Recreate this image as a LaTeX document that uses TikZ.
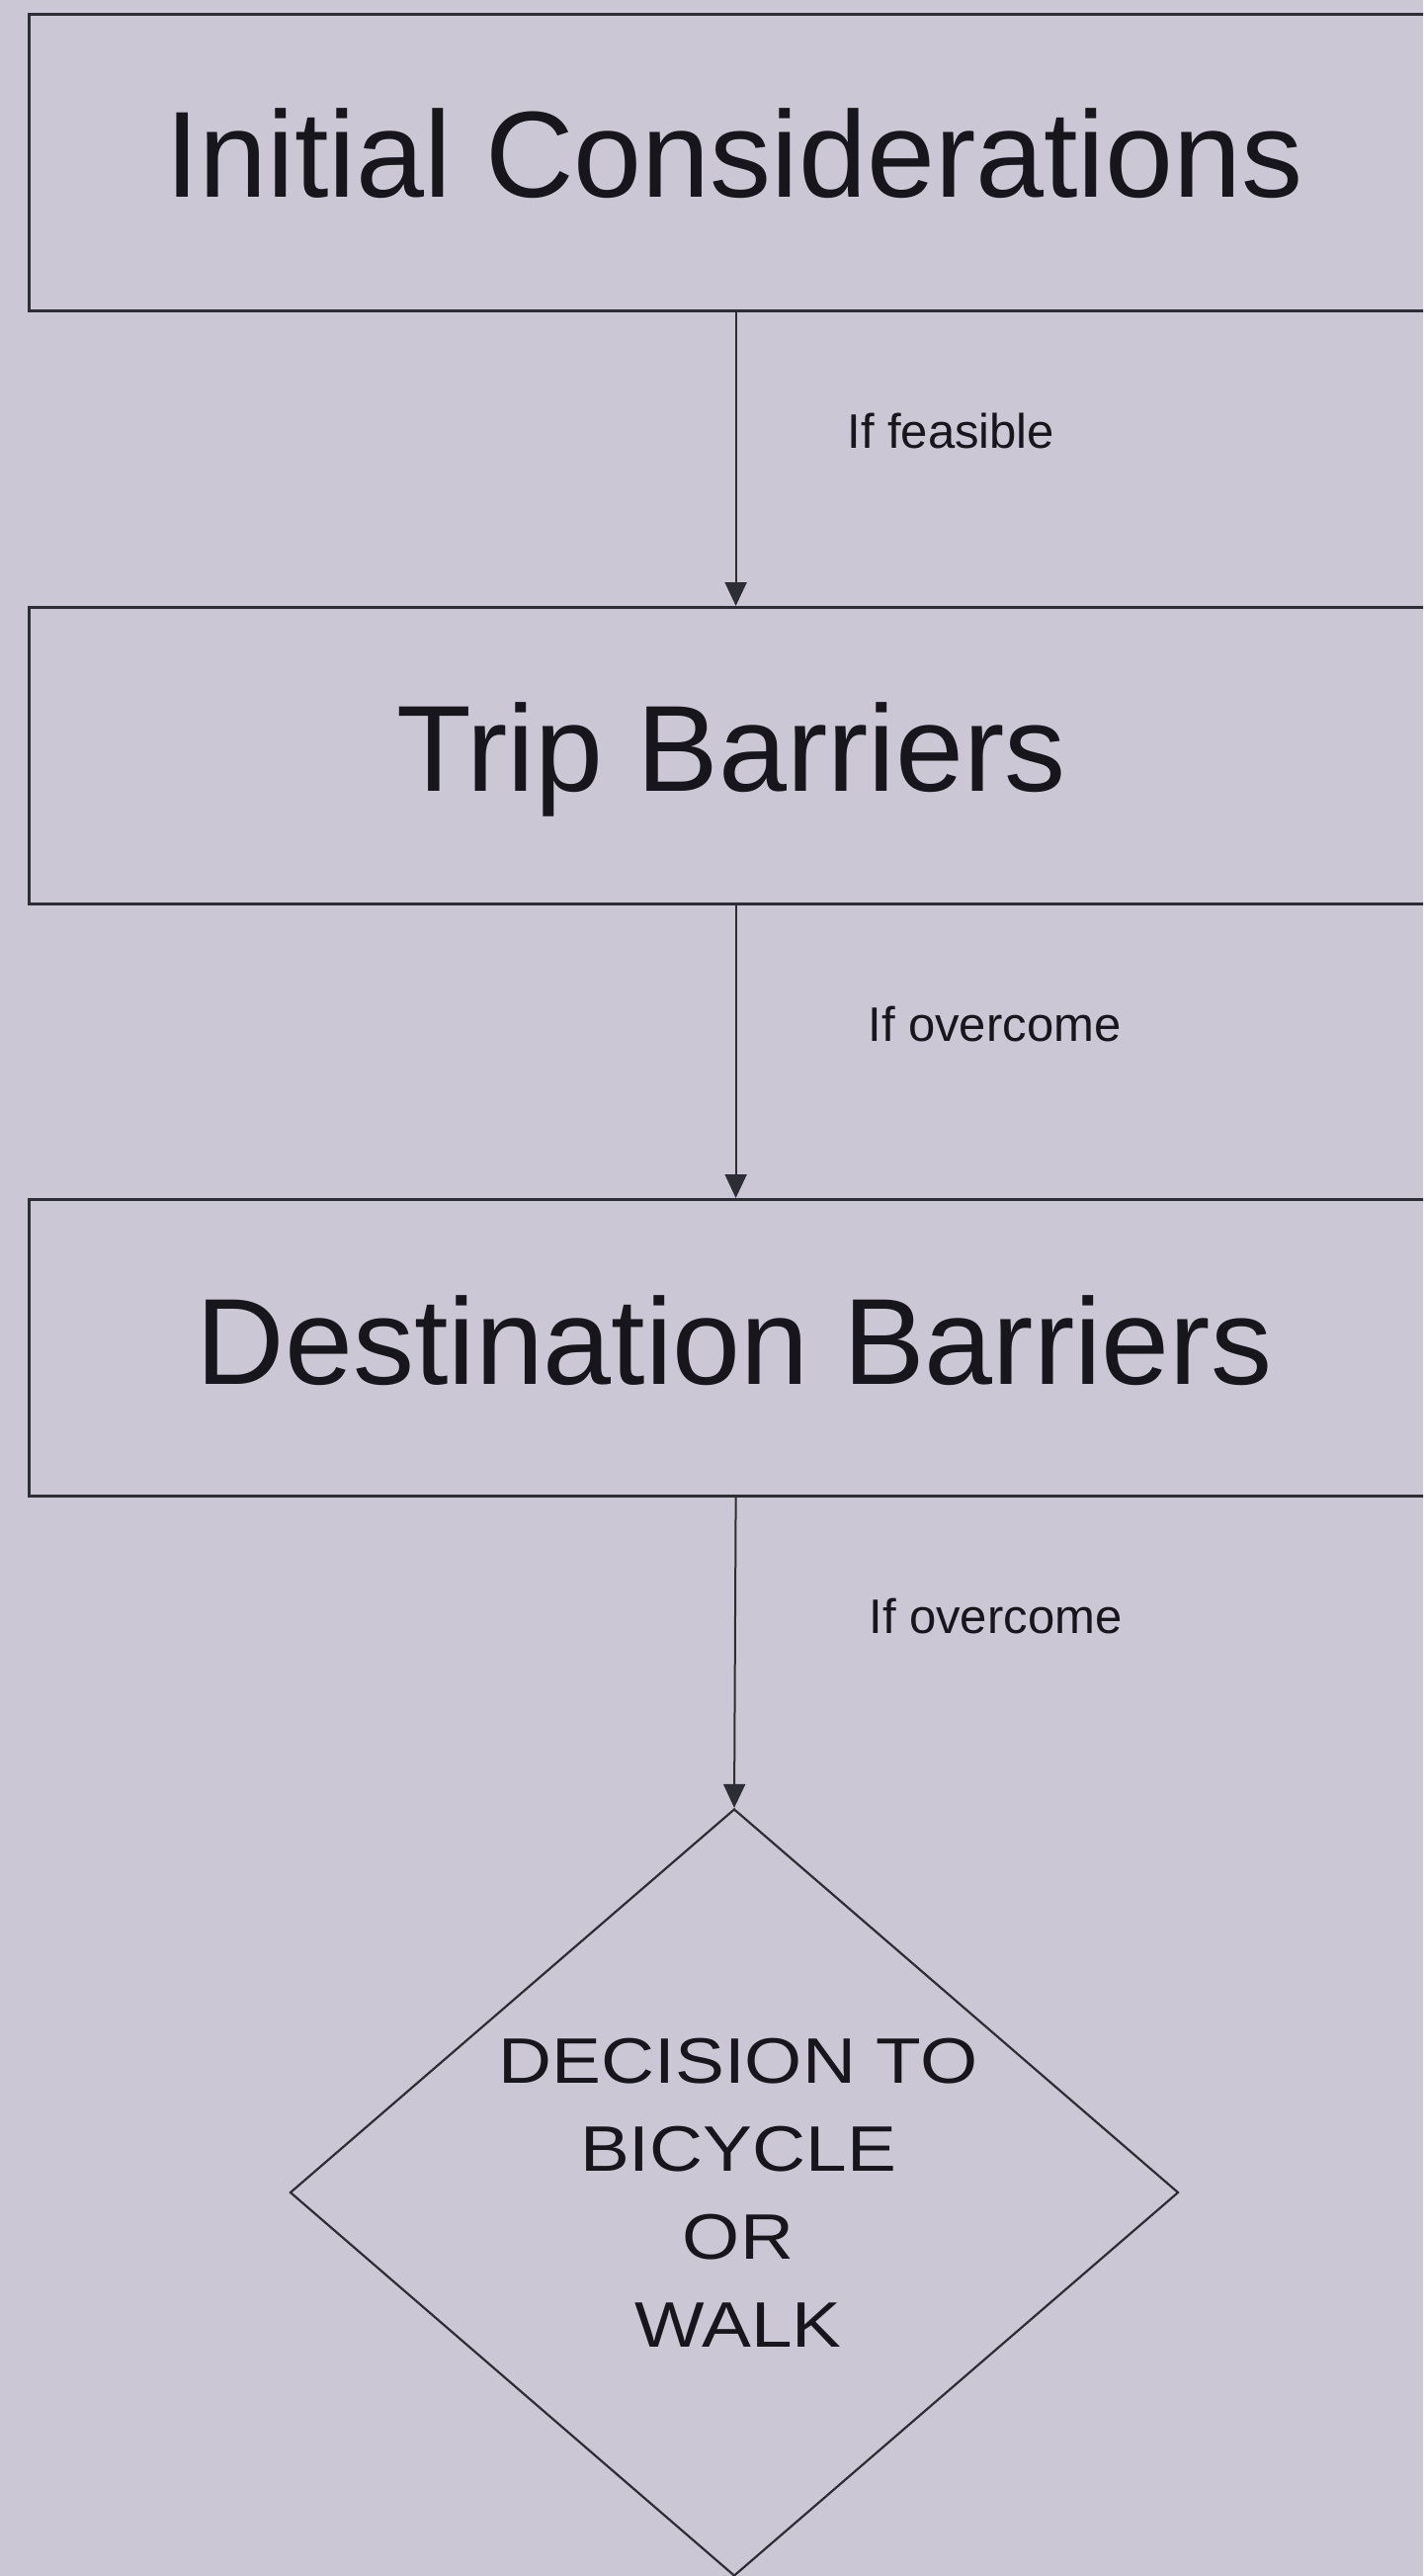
\documentclass[tikz,border=0pt]{standalone}
\usepackage{fontspec}
\setmainfont{Liberation Sans}
\newfontfamily\widefont[FakeStretch=1.15]{Liberation Sans}
\usetikzlibrary{shapes.geometric,arrows.meta}
\definecolor{bg}{RGB}{204,199,212}
\definecolor{ink}{RGB}{22,22,28}
\definecolor{edge}{RGB}{45,45,52}
\begin{document}
\begin{tikzpicture}[x=0.5pt,y=-0.5pt,
  box/.style={draw=edge,line width=1.6pt,rectangle,minimum width=715pt,minimum height=150pt,inner sep=0pt,anchor=north west},
  title/.style={text=ink,font=\fontsize{62pt}{74pt}\selectfont,anchor=base,inner sep=0pt},
  lbl/.style={text=ink,font=\fontsize{24.5pt}{29pt}\selectfont,anchor=base west,inner sep=0pt},
  link/.style={draw=edge,line width=1pt,-{Triangle[length=12pt,width=11pt]}},
  decision/.style={draw=edge,line width=1.1pt,diamond,minimum width=449.5pt,minimum height=388pt,inner sep=0pt}]
\useasboundingbox (0,0) rectangle (1440,2606);
\fill[bg] (0,0) rectangle (1440,2606);
\clip (0,0) rectangle (1440,2606);

% boxes
\node[box] (b1) at (28,13) {};
\node[box] (b2) at (28,613) {};
\node[box] (b3) at (28,1212) {};
\node[decision] (d) at (743,2218) {};

% box titles
\node[title] (t1) at (743,200) {Initial Considerations};
\node[title] (t2) at (740,800) {Trip Barriers};
\node[title] (t3) at (743,1400) {Destination Barriers};

% decision text
\node[text=ink,font=\widefont\fontsize{32.5pt}{44.5pt}\selectfont,align=center,inner sep=0pt] (dt) at (747,2218) {DECISION TO\\BICYCLE\\OR\\WALK};

% connectors
\draw[link] (b1.south) -- (b2.north);
\draw[link] (b2.south) -- (b3.north);
\draw[link] (b3.south) -- (d.north);

% connector labels
\node[lbl] (l1) at (857,453) {If feasible};
\node[lbl] (l2) at (878,1053) {If overcome};
\node[lbl] (l3) at (879,1652) {If overcome};
\end{tikzpicture}
\end{document}
